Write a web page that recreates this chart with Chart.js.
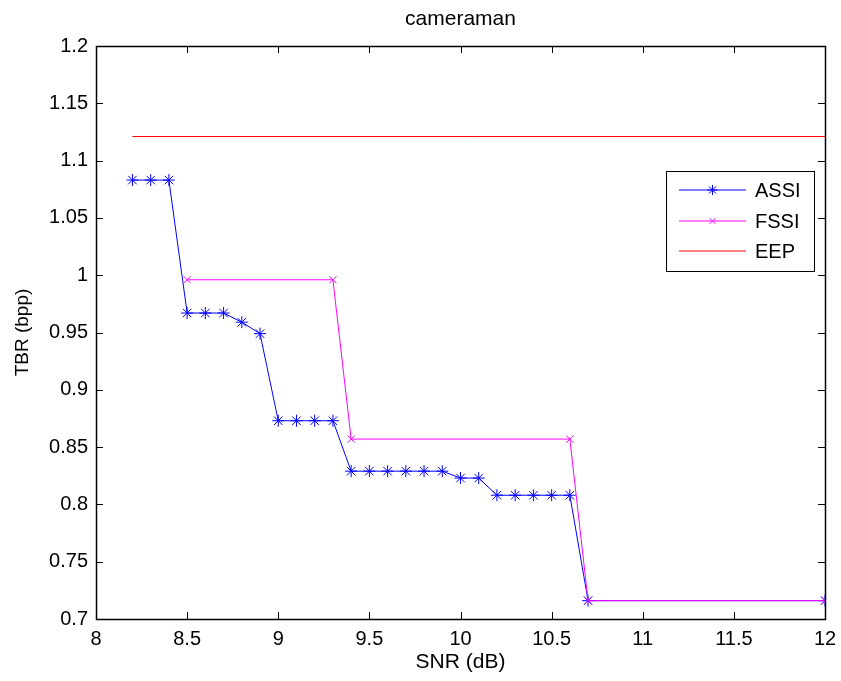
<!DOCTYPE html>
<html>
<head>
<meta charset="utf-8">
<script src="https://cdn.jsdelivr.net/npm/chart.js@4"></script>
<style>
  html, body { margin: 0; padding: 0; background: #fff; }
  #wrap { width: 841px; height: 681px; }
</style>
</head>
<body>
<div id="wrap"><canvas id="c" width="841" height="681"></canvas></div>
<script>
// data
const assiX = [8.2, 8.3, 8.4, 8.5, 8.6, 8.7, 8.8, 8.9, 9.0, 9.1, 9.2, 9.3, 9.4, 9.5, 9.6, 9.7, 9.8, 9.9, 10.0, 10.1, 10.2, 10.3, 10.4, 10.5, 10.6, 10.7, 12];
const assiY = [1.083, 1.083, 1.083, 0.967, 0.967, 0.967, 0.959, 0.949, 0.873, 0.873, 0.873, 0.873, 0.829, 0.829, 0.829, 0.829, 0.829, 0.829, 0.823, 0.823, 0.808, 0.808, 0.808, 0.808, 0.808, 0.716, 0.716];
const fssiX = [8.5, 9.3, 9.4, 10.6, 10.7, 12];
const fssiY = [0.996, 0.996, 0.857, 0.857, 0.716, 0.716];
const eepX = [8.2, 12];
const eepY = [1.121, 1.121];
const xTicks = [8, 8.5, 9, 9.5, 10, 10.5, 11, 11.5, 12];
const yTicks = [0.7, 0.75, 0.8, 0.85, 0.9, 0.95, 1, 1.05, 1.1, 1.15, 1.2];
const titleText = 'cameraman';

const FONT = '"Liberation Sans", Arial, sans-serif';
const FS = 20;
const BLUE = '#0000ff', MAGENTA = '#ff00ff', RED = '#ff0000';
const pts = (xs, ys) => xs.map((x, i) => ({x: x, y: ys[i]}));

// matlab-like box with inward ticks on all four sides, plus the title over the axes
const boxPlugin = {
  id: 'box',
  afterDraw(chart) {
    const {ctx, chartArea: a, scales} = chart;
    ctx.save();
    ctx.strokeStyle = '#000';
    ctx.lineWidth = 1;
    ctx.beginPath();
    xTicks.forEach(v => {
      const px = Math.round(scales.x.getPixelForValue(v)) + 0.5;
      ctx.moveTo(px, a.bottom); ctx.lineTo(px, a.bottom - 7);
      ctx.moveTo(px, a.top); ctx.lineTo(px, a.top + 7);
    });
    yTicks.forEach(v => {
      const py = Math.round(scales.y.getPixelForValue(v)) + 0.5;
      ctx.moveTo(a.left, py); ctx.lineTo(a.left + 7, py);
      ctx.moveTo(a.right, py); ctx.lineTo(a.right - 7, py);
    });
    ctx.stroke();
    ctx.lineWidth = 1.5;
    ctx.strokeRect(Math.round(a.left) + 0.5, Math.round(a.top) + 0.5, Math.round(a.right - a.left), Math.round(a.bottom - a.top));
    ctx.fillStyle = '#000';
    ctx.font = '21px ' + FONT;
    ctx.textAlign = 'center';
    ctx.textBaseline = 'middle';
    ctx.fillText(titleText, (a.left + a.right) / 2, 19);
    ctx.restore();
  }
};

// legend box drawn like matlab's
const legendPlugin = {
  id: 'mlegend',
  afterDraw(chart) {
    const ctx = chart.ctx;
    const bx = 666, by = 171, bw = 148, bh = 100;
    ctx.save();
    ctx.fillStyle = '#fff';
    ctx.fillRect(bx, by, bw, bh);
    ctx.strokeStyle = '#000';
    ctx.lineWidth = 1;
    ctx.strokeRect(bx + 0.5, by + 0.5, bw, bh);
    ctx.font = FS + 'px ' + FONT;
    ctx.textBaseline = 'middle';
    ctx.textAlign = 'left';
    chart.data.datasets.forEach((ds, i) => {
      const y = Math.round(by + 19 + i * 30.5);
      const col = ds.borderColor;
      ctx.lineWidth = 1;
      ctx.strokeStyle = col;
      ctx.beginPath();
      ctx.moveTo(bx + 13, y); ctx.lineTo(bx + 80, y);
      ctx.stroke();
      if (ds.pointRadius > 0) {
        ctx.strokeStyle = col;
        ctx.fillStyle = col;
        Chart.helpers.drawPoint(ctx, {pointStyle: ds.pointStyle, radius: ds.pointRadius - 1, borderWidth: 1}, bx + 46.5, y);
      }
      ctx.fillStyle = '#000';
      ctx.fillText(ds.label, bx + 89, y + 1);
    });
    ctx.restore();
  }
};

new Chart(document.getElementById('c'), {
  type: 'line',
  data: {
    datasets: [
      {label: 'ASSI', data: pts(assiX, assiY), order: 2, borderColor: BLUE, backgroundColor: BLUE, borderWidth: 1, pointStyle: 'star', pointRadius: 6, pointBorderWidth: 1, tension: 0},
      {label: 'FSSI', data: pts(fssiX, fssiY), order: 1, borderColor: MAGENTA, backgroundColor: MAGENTA, borderWidth: 1, pointStyle: 'crossRot', pointRadius: 5, pointBorderWidth: 1, tension: 0},
      {label: 'EEP', data: pts(eepX, eepY), order: 0, borderColor: RED, backgroundColor: RED, borderWidth: 1, pointRadius: 0, tension: 0}
    ]
  },
  options: {
    responsive: false,
    animation: false,
    layout: {padding: {top: 46, right: 16, bottom: 0}},
    plugins: {
      legend: {display: false},
      tooltip: {enabled: false},
      title: {display: false}
    },
    scales: {
      x: {
        type: 'linear', min: 8, max: 12,
        afterBuildTicks: s => { s.ticks = xTicks.map(v => ({value: v})); },
        afterFit: s => { s.height = 62; s.paddingLeft = 0; s.paddingRight = 0; },
        grid: {display: false, drawTicks: false},
        border: {display: false},
        ticks: {color: '#000', padding: 8, maxRotation: 0, autoSkip: false, font: {family: FONT, size: FS}, callback: v => String(+v.toFixed(2))},
        title: {display: true, text: 'SNR (dB)', color: '#000', font: {family: FONT, size: 21}, padding: {top: 0, bottom: 6}}
      },
      y: {
        type: 'linear', min: 0.7, max: 1.2,
        afterBuildTicks: s => { s.ticks = yTicks.map(v => ({value: v})); },
        afterFit: s => { s.width = 96; s.paddingTop = 0; s.paddingBottom = 0; },
        grid: {display: false, drawTicks: false},
        border: {display: false},
        ticks: {color: '#000', padding: 8, autoSkip: false, font: {family: FONT, size: FS}, callback: v => String(+v.toFixed(2))},
        title: {display: true, text: 'TBR (bpp)', color: '#000', font: {family: FONT, size: 19}, padding: {top: 11, bottom: 0}}
      }
    }
  },
  plugins: [boxPlugin, legendPlugin]
});
</script>
</body>
</html>
